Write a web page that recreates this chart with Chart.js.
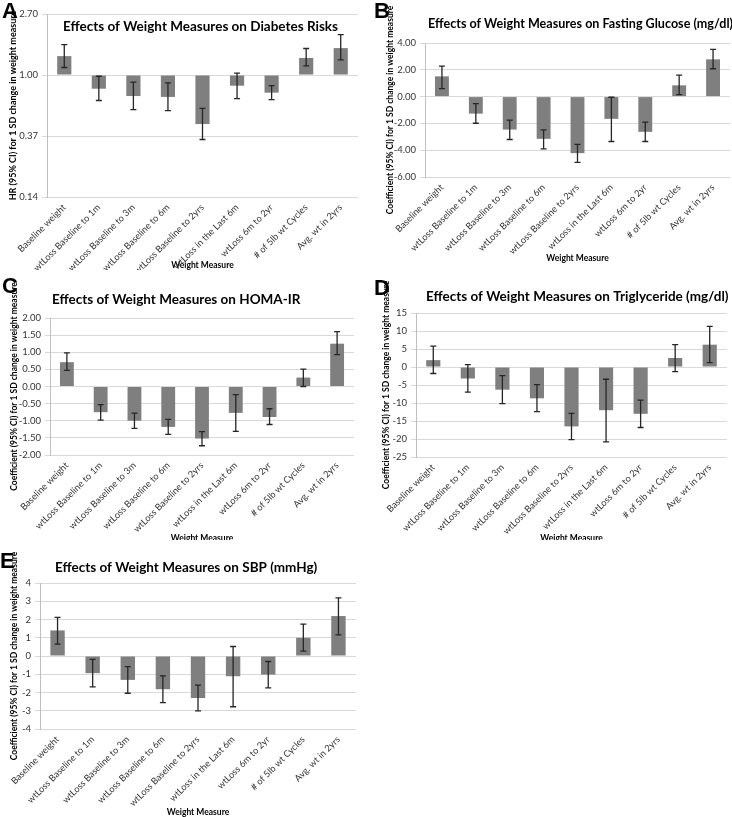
<!DOCTYPE html>
<html><head><meta charset="utf-8">
<script src="https://cdn.jsdelivr.net/npm/chart.js@4.4.1/dist/chart.umd.min.js"></script>
<style>
html,body{margin:0;padding:0;background:#fff;}
#wrap{position:relative;width:732px;height:817px;overflow:hidden;background:#fff;}
canvas{position:absolute;}
.letter{position:absolute;font:bold 22px "Liberation Sans",Arial,sans-serif;line-height:22px;color:#000;}
</style></head><body>
<div id="wrap">
  <canvas id="cA" width="366" height="270" style="left:0;top:0"></canvas>
  <canvas id="cB" width="366" height="270" style="left:366px;top:0"></canvas>
  <canvas id="cC" width="366" height="270" style="left:0;top:270px"></canvas>
  <canvas id="cD" width="366" height="270" style="left:366px;top:270px"></canvas>
  <canvas id="cE" width="366" height="277" style="left:0;top:540px"></canvas>
  <div class="letter" style="left:2px;top:0px">A</div>
  <div class="letter" style="left:374px;top:0px">B</div>
  <div class="letter" style="left:2px;top:275px">C</div>
  <div class="letter" style="left:374px;top:277px">D</div>
  <div class="letter" style="left:0px;top:550px">E</div>
</div>
<script>
const categories = ["Baseline weight", "wtLoss Baseline to 1m", "wtLoss Baseline to 3m", "wtLoss Baseline to 6m", "wtLoss Baseline to 2yrs", "wtLoss in the Last 6m", "wtLoss 6m to 2yr", "# of 5lb wt Cycles", "Avg. wt in 2yrs"];

// A: Diabetes risk (hazard ratio)
const hrValues = [1.36, 0.80, 0.71, 0.70, 0.45, 0.84, 0.75, 1.32, 1.55];
const hrLower  = [1.13, 0.66, 0.57, 0.56, 0.35, 0.68, 0.67, 1.16, 1.28];
const hrUpper  = [1.64, 0.98, 0.89, 0.88, 0.58, 1.03, 0.84, 1.54, 1.93];
const hrTicks  = [0.1372, 0.3704, 1.00, 2.70];

// B: Fasting glucose
const glucoseValues = [1.51, -1.27, -2.46, -3.15, -4.22, -1.66, -2.63, 0.84, 2.78];
const glucoseLower  = [0.60, -1.99, -3.20, -3.90, -4.91, -3.35, -3.35, 0.15, 2.08];
const glucoseUpper  = [2.28, -0.52, -1.76, -2.48, -3.57, -0.05, -1.91, 1.61, 3.52];
const glucoseTicks  = [-6, -5, -4, -3, -2, -1, 0, 1, 2, 3, 4];

// C: HOMA-IR
const homaValues = [0.71, -0.75, -1.00, -1.18, -1.52, -0.77, -0.89, 0.26, 1.25];
const homaLower  = [0.47, -0.98, -1.22, -1.40, -1.73, -1.31, -1.11, 0.00, 0.93];
const homaUpper  = [0.98, -0.53, -0.78, -0.96, -1.32, -0.24, -0.65, 0.51, 1.60];
const homaTicks  = [-2, -1.5, -1, -0.5, 0, 0.5, 1, 1.5, 2];

// D: Triglyceride
const tgValues = [1.9, -3.2, -6.3, -8.7, -16.5, -12.0, -13.0, 2.5, 6.2];
const tgLower  = [-1.8, -7.0, -10.2, -12.4, -20.2, -20.8, -16.8, -1.3, 1.2];
const tgUpper  = [5.8, 0.65, -2.4, -4.9, -12.9, -3.4, -9.2, 6.2, 11.3];
const tgTicks  = [-25, -20, -15, -10, -5, 0, 5, 10, 15];

// E: SBP
const sbpValues = [1.40, -0.94, -1.31, -1.82, -2.30, -1.11, -1.02, 1.00, 2.19];
const sbpLower  = [0.65, -1.69, -2.04, -2.55, -3.01, -2.78, -1.75, 0.27, 1.16];
const sbpUpper  = [2.12, -0.19, -0.58, -1.09, -1.60, 0.52, -0.30, 1.75, 3.19];
const sbpTicks  = [-4, -3, -2, -1, 0, 1, 2, 3, 4];

const FONT = 'Lato, "Open Sans", sans-serif';
const COEF_TITLE = 'Coefficient (95% CI) for 1 SD change in weight measure';

const errorBarPlugin = {
  id: 'errorBars',
  afterDatasetsDraw(chart) {
    const ds = chart.data.datasets[0];
    const meta = chart.getDatasetMeta(0);
    const ys = chart.scales.y;
    const ctx = chart.ctx;
    ctx.save();
    ctx.strokeStyle = '#262626';
    ctx.lineWidth = 1.3;
    meta.data.forEach((bar, i) => {
      const x = bar.x;
      const yl = ys.getPixelForValue(ds.errLower[i]);
      const yh = ys.getPixelForValue(ds.errUpper[i]);
      ctx.beginPath();
      ctx.moveTo(x, yl); ctx.lineTo(x, yh);
      ctx.moveTo(x - 3, yl); ctx.lineTo(x + 3, yl);
      ctx.moveTo(x - 3, yh); ctx.lineTo(x + 3, yh);
      ctx.stroke();
    });
    ctx.restore();
  }
};

const titleShiftPlugin = {
  id: 'titleShift',
  afterLayout(chart, args, opts) {
    const t = chart.titleBlock;
    if (!t) return;
    const dx = opts.dx || 0, dy = opts.dy || 0;
    t.left += dx; t.right += dx; t.top += dy; t.bottom += dy;
  }
};

function makeChart(id, c) {
  const ds = {
    data: c.values, errLower: c.lower, errUpper: c.upper,
    backgroundColor: '#7f7f7f', borderWidth: 0,
    barPercentage: 0.41, categoryPercentage: 1
  };
  if (c.base !== undefined) ds.base = c.base;
  return new Chart(document.getElementById(id), {
    type: 'bar',
    data: { labels: categories, datasets: [ds] },
    options: {
      responsive: false, animation: false, devicePixelRatio: 1,
      layout: { padding: { left: 0, right: c.padRight, top: 0, bottom: 0 } },
      plugins: {
        legend: { display: false },
        tooltip: { enabled: false },
        title: {
          display: true, text: c.title, fullSize: false, align: c.titleAlign,
          color: '#000', font: { family: FONT, size: 13.5, weight: 'bold', lineHeight: 1.2 },
          padding: c.titlePad
        },
        titleShift: { dx: c.titleDx, dy: c.titleDy }
      },
      scales: {
        x: {
          grid: { display: false, drawTicks: false },
          border: { display: false },
          ticks: { autoSkip: false, minRotation: 45, maxRotation: 45, padding: 5, color: '#333', font: { family: FONT, size: 9.2 } },
          title: { display: true, text: 'Weight Measure', color: '#000',
                   font: { family: FONT, size: 8.5, weight: 'bold', lineHeight: 1.2 },
                   padding: { top: 0, bottom: c.xTitlePadB } },
          afterFit(s) { s.height = c.xHeight; }
        },
        y: {
          type: c.yType, min: c.ticks[0], max: c.ticks[c.ticks.length - 1],
          afterBuildTicks(s) { s.ticks = c.ticks.map(v => ({ value: v })); },
          ticks: { padding: 4, color: '#333', font: { family: FONT, size: 9.5 },
                   callback: (v) => Number(v).toFixed(c.decimals) },
          grid: { color: '#d9d9d9', tickColor: '#d9d9d9', tickLength: 5, lineWidth: 1 },
          border: { display: true, color: '#bfbfbf' },
          title: { display: true, text: c.yTitle, color: '#000',
                   font: { family: FONT, size: c.yTitleSize, weight: 'bold', lineHeight: 1.2 },
                   padding: { top: c.yTitlePadT, bottom: 0 } },
          afterFit(s) { s.width = c.yWidth; }
        }
      }
    },
    plugins: [errorBarPlugin, titleShiftPlugin]
  });
}

makeChart('cA', {
  values: hrValues, lower: hrLower, upper: hrUpper, ticks: hrTicks, base: 1,
  yType: 'logarithmic', decimals: 2,
  title: 'Effects of Weight Measures on Diabetes Risks', titleAlign: 'center',
  titlePad: { top: 0, bottom: -2.2 }, titleDx: -2, titleDy: 19,
  yTitle: 'HR (95% CI) for 1 SD change in weight measure', yTitleSize: 9, yTitlePadT: 7.6,
  yWidth: 47, padRight: 8, xHeight: 73, xTitlePadB: 0
});
makeChart('cB', {
  values: glucoseValues, lower: glucoseLower, upper: glucoseUpper, ticks: glucoseTicks,
  yType: 'linear', decimals: 2,
  title: 'Effects of Weight Measures on Fasting Glucose (mg/dl)', titleAlign: 'start',
  titlePad: { top: 15.9, bottom: 10.9 }, titleDx: 3, titleDy: 0,
  yTitle: COEF_TITLE, yTitleSize: 8.5, yTitlePadT: 19,
  yWidth: 59, padRight: 2, xHeight: 93, xTitlePadB: 6.9
});
makeChart('cC', {
  values: homaValues, lower: homaLower, upper: homaUpper, ticks: homaTicks,
  yType: 'linear', decimals: 2,
  title: 'Effects of Weight Measures on HOMA-IR', titleAlign: 'start',
  titlePad: { top: 21.9, bottom: 9.9 }, titleDx: 2, titleDy: 0,
  yTitle: COEF_TITLE, yTitleSize: 8.5, yTitlePadT: 8.9,
  yWidth: 50, padRight: 12, xHeight: 85, xTitlePadB: -3.1
});
makeChart('cD', {
  values: tgValues, lower: tgLower, upper: tgUpper, ticks: tgTicks,
  yType: 'linear', decimals: 0,
  title: 'Effects of Weight Measures on Triglyceride (mg/dl)', titleAlign: 'start',
  titlePad: { top: 18.9, bottom: 7.9 }, titleDx: 10, titleDy: 0,
  yTitle: COEF_TITLE, yTitleSize: 8.5, yTitlePadT: 14.9,
  yWidth: 50, padRight: 5, xHeight: 83, xTitlePadB: -3.1
});
makeChart('cE', {
  values: sbpValues, lower: sbpLower, upper: sbpUpper, ticks: sbpTicks,
  yType: 'linear', decimals: 0,
  title: 'Effects of Weight Measures on SBP (mmHg)', titleAlign: 'start',
  titlePad: { top: 19.9, bottom: 6.9 }, titleDx: 15, titleDy: 0,
  yTitle: COEF_TITLE, yTitleSize: 8.5, yTitlePadT: 8.9,
  yWidth: 40, padRight: 10, xHeight: 88, xTitlePadB: 0
});
</script>
</body></html>
